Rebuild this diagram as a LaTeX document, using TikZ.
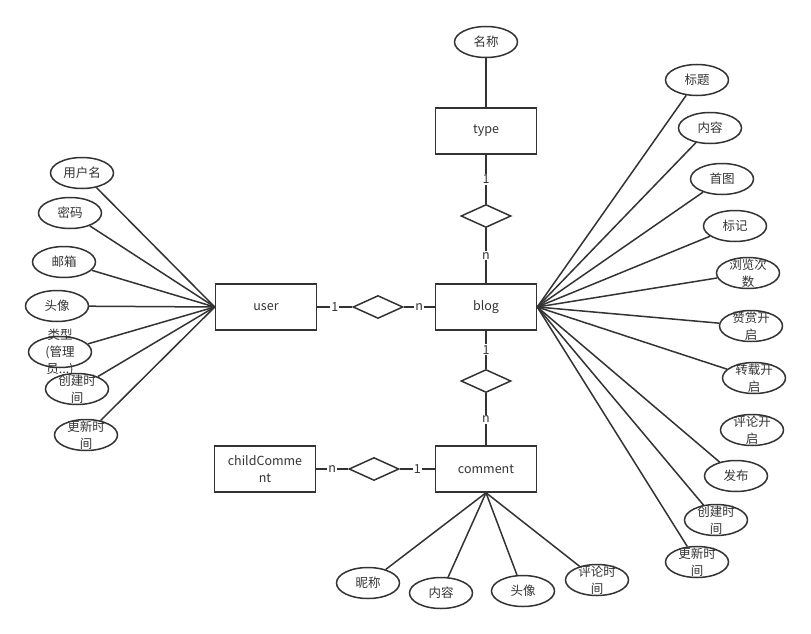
\documentclass[tikz,border=0pt]{standalone}
\usepackage{fontspec}
\setmainfont{Noto Sans CJK SC}
\usetikzlibrary{positioning,
                shapes.geometric
                }

\begin{document}
\begin{tikzpicture}[x=1pt, y=-1pt,
    line width=1.5pt, color=black!80,
    every node/.style = {font=\fontsize{12.5}{17}\selectfont},
  ent/.style = {draw, minimum width=101pt, minimum height=46pt,
                align=center, inner sep=2pt},
  rel/.style = {shape=diamond, draw, minimum width=50pt, minimum height=23pt,
                inner sep=0pt},
 attr/.style = {shape=ellipse, draw, minimum width=63pt, minimum height=31pt,
                inner sep=0pt, label={[align=center]center:{#1}}},
 card/.style = {midway, fill=white, inner sep=1pt}
                    ]
\useasboundingbox (0,0) rectangle (811,634);
\node (type)    [ent] at (486,131) {type};
\node (user)    [ent] at (266,307) {user};
\node (blog)    [ent] at (486,307) {blog};
\node (comment) [ent] at (486,469) {comment};
\node (child)   [ent] at (265,469) {childComme\\nt};

\node (r1) [rel] at (486,216) {};
\node (r2) [rel] at (378,307) {};
\node (r3) [rel] at (486,381) {};
\node (r4) [rel] at (374,469) {};

\draw (type)  -- node[card] {1} (r1) -- node[card] {n} (blog);
\draw (user)  -- node[card] {1} (r2) -- node[card] {n} (blog);
\draw (blog)  -- node[card] {1} (r3) -- node[card] {n} (comment);
\draw (child) -- node[card] {n} (r4) -- node[card] {1} (comment);

\node (t1) [attr=名称] at (486,42) {};
\draw (t1) -- (type);

\foreach \i/\x/\y/\t in {1/82/173/用户名, 2/70/213/密码, 3/64/262/邮箱,
        4/57/306/头像, 5/60/352/{类型\\(管理\\员...)},
        6/77/389/{创建时\\间}, 7/86/435/{更新时\\间}}
   {\node (u\i) [attr=\t] at (\x,\y) {};
    \draw (u\i) -- (user.west);}

\foreach \i/\x/\y/\t in {1/697/80/标题, 2/710/128/内容, 3/722/179/首图,
        4/735/226/标记, 5/748/273/{浏览次\\数}, 6/751/326/{赞赏开\\启},
        7/754/378/{转载开\\启}, 9/736/476/发布,
        10/716/520/{创建时\\间}, 11/697/562/{更新时\\间}}
   {\node (b\i) [attr=\t] at (\x,\y) {};
    \draw (b\i) -- (blog.east);}
\node (b8) [attr={评论开\\启}] at (752,430) {};

\foreach \i/\x/\y/\t in {1/368/583/昵称, 2/441/593/内容, 3/523/591/头像,
        4/597/580/{评论时\\间}}
   {\node (c\i) [attr=\t] at (\x,\y) {};
    \draw (c\i) -- (comment.south);}
\end{tikzpicture}
\end{document}
